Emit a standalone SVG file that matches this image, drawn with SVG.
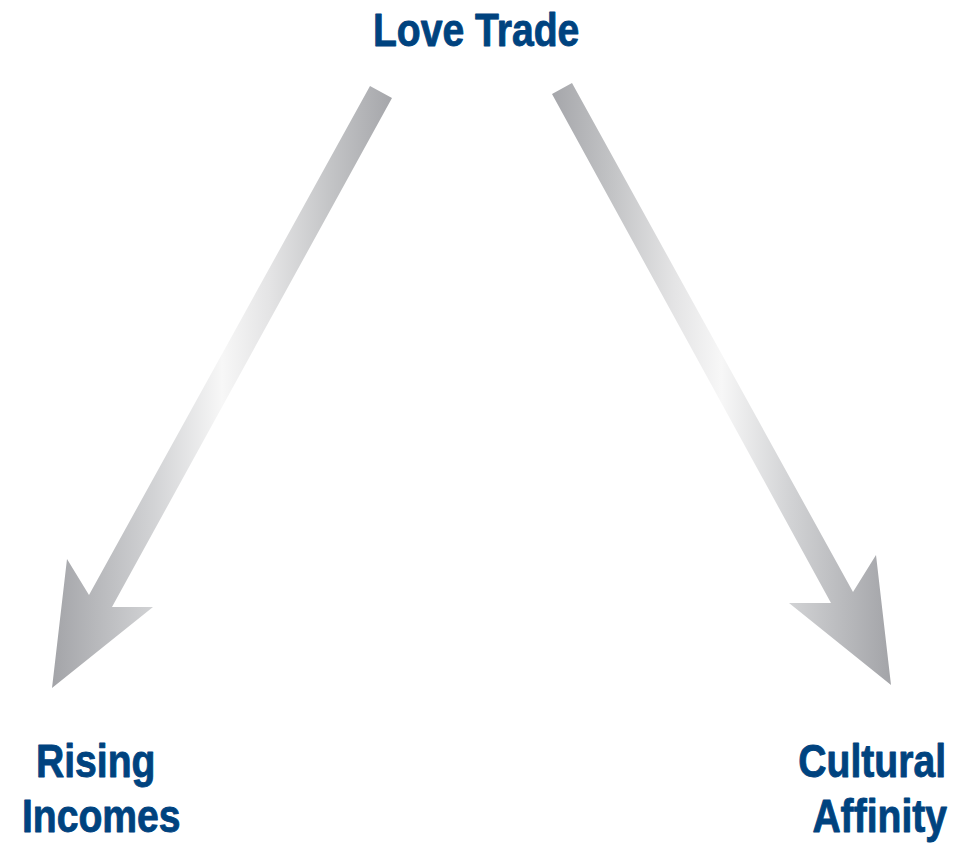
<svg xmlns="http://www.w3.org/2000/svg" width="962" height="844" viewBox="0 0 962 844">
  <defs>
    <!-- metallic shading, brightest near the middle of each shaft -->
    <linearGradient id="steelLeft" gradientUnits="userSpaceOnUse" x1="52" y1="0" x2="392" y2="0">
      <stop offset="0" stop-color="#a3a4a8"/>
      <stop offset="0.3" stop-color="#d2d3d5"/>
      <stop offset="0.5" stop-color="#f7f7f7"/>
      <stop offset="0.64" stop-color="#e4e4e5"/>
      <stop offset="0.82" stop-color="#c3c4c6"/>
      <stop offset="1" stop-color="#a5a6aa"/>
    </linearGradient>
    <linearGradient id="steelRight" gradientUnits="userSpaceOnUse" x1="891" y1="0" x2="552" y2="0">
      <stop offset="0" stop-color="#a3a4a8"/>
      <stop offset="0.3" stop-color="#d2d3d5"/>
      <stop offset="0.5" stop-color="#f7f7f7"/>
      <stop offset="0.64" stop-color="#e4e4e5"/>
      <stop offset="0.82" stop-color="#c3c4c6"/>
      <stop offset="1" stop-color="#a5a6aa"/>
    </linearGradient>
    <style>
      .label { font-family: "Liberation Sans", Arial, sans-serif; font-weight: bold; font-size: 46px;
               fill: #00437f; stroke: #00437f; stroke-width: 0.9px; stroke-linejoin: round; }
      .end { text-anchor: end; }
    </style>
  </defs>

  <g id="connectors">
    <polygon id="arrow-to-incomes" fill="url(#steelLeft)"
      points="370,86 392,98 112,607 153,607 52,688 67,559 89,595"/>
    <polygon id="arrow-to-affinity" fill="url(#steelRight)"
      points="572,83 853,592 876,555 891,685 789,603 831,603 552,94"/>
  </g>

  <!-- labels are set narrow to give a condensed face -->
  <g id="node-love-trade">
    <text class="label" transform="translate(373,46) scale(0.85,1)">Love Trade</text>
  </g>

  <g id="node-rising-incomes">
    <text class="label" transform="translate(36,777) scale(0.85,1)">Rising</text>
    <text class="label" transform="translate(22,832) scale(0.85,1)">Incomes</text>
  </g>

  <g id="node-cultural-affinity">
    <text class="label end" transform="translate(946,777) scale(0.85,1)">Cultural</text>
    <text class="label end" transform="translate(947,832) scale(0.85,1)">Affinity</text>
  </g>
</svg>
